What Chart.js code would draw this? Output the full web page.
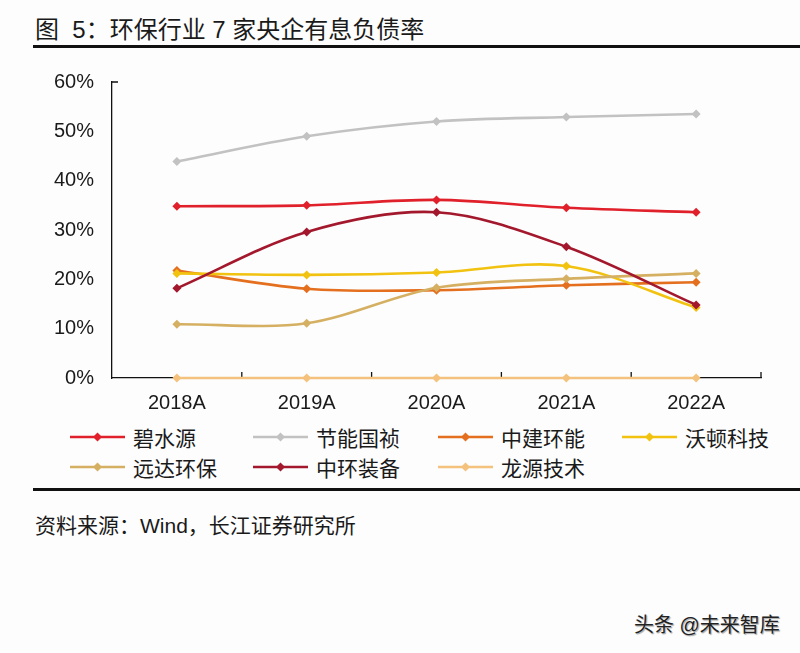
<!DOCTYPE html>
<html>
<head>
<meta charset="utf-8">
<script src="https://cdn.jsdelivr.net/npm/chart.js@4/dist/chart.umd.min.js"></script>
<style>
  body { margin: 0; background: #fdfdfd; }
  #page { position: relative; width: 800px; height: 653px; overflow: hidden; background: #fdfdfd;
          font-family: "Liberation Sans", "Noto Sans CJK SC", sans-serif; color: #1a1a1a; }
  #title { position: absolute; left: 35px; top: 10px; font-size: 24px; white-space: pre; }
  .rule { position: absolute; left: 33px; right: 0; height: 3px; background: #111; }
  #wrap { position: absolute; left: 0; top: 52px; width: 800px; height: 368px; }
  #legend { position: absolute; left: 0; top: 422px; width: 800px; height: 60px; }
  .item { position: absolute; height: 30px; display: flex; align-items: center; font-size: 21px; white-space: nowrap; }
  .item svg { margin-right: 8px; }
  #source { position: absolute; left: 35px; top: 509px; font-size: 21px; white-space: pre; }
  #mark { position: absolute; left: 634px; top: 609px; font-size: 20px; color: #222;
          text-shadow: 0 0 2px #fff, 1px 1px 1px #888; }
</style>
</head>
<body>
<div id="page">
  <div id="title">图  5：环保行业 7 家央企有息负债率</div>
  <div class="rule" style="top:45px"></div>
  <div id="wrap"><canvas id="c"></canvas></div>
  <div id="legend"></div>
  <div class="rule" style="top:488px"></div>
  <div id="source">资料来源：Wind，长江证券研究所</div>
  <div id="mark">头条 @未来智库</div>
</div>
<script>
// years on the x axis
var years = ['2018A', '2019A', '2020A', '2021A', '2022A'];

// company names, as in the legend
var names = ['碧水源', '节能国祯', '中建环能', '沃顿科技', '远达环保', '中环装备', '龙源技术'];

// interest-bearing debt ratio, %
var bishuiyuan = [34.8, 35.0, 36.1, 34.5, 33.6];
var jienengguozhen = [43.9, 49.0, 52.0, 52.9, 53.5];
var zhongjianhuanneng = [21.8, 18.1, 17.8, 18.8, 19.4];
var wodunkeji = [21.2, 20.9, 21.4, 22.7, 14.3];
var yuandahuanbao = [10.9, 11.1, 18.3, 20.1, 21.2];
var zhonghuanzhuangbei = [18.2, 29.6, 33.6, 26.6, 14.8];
var longyuanjishu = [0, 0, 0, 0, 0];

var yTicks = [0, 10, 20, 30, 40, 50, 60];

var colors = ['#e0202a', '#c2c2c2', '#e4701f', '#f1c20f', '#d5b062', '#a3182c', '#f4c27c'];
var series = [bishuiyuan, jienengguozhen, zhongjianhuanneng, wodunkeji, yuandahuanbao, zhonghuanzhuangbei, longyuanjishu];

var datasets = series.map(function (vals, i) {
  return {
    label: names[i],
    data: vals,
    borderColor: colors[i],
    backgroundColor: colors[i],
    borderWidth: 2.6,
    tension: 0.33,
    pointStyle: 'rectRot',
    pointRadius: 4.5,
    pointBorderWidth: 0,
    clip: false,
    order: series.length - i   // later series on top, like the original
  };
});

// axis tick marks pointing inward (between categories) and top cap on y axis
var axisTicks = {
  id: 'axisTicks',
  beforeDatasetsDraw: function (chart) {
    var ctx = chart.ctx, x = chart.scales.x, a = chart.chartArea;
    ctx.save();
    ctx.strokeStyle = '#111';
    ctx.lineWidth = 1.3;
    ctx.beginPath();
    for (var i = 0; i < years.length; i++) {
      var px = i < years.length - 1 ? (x.getPixelForValue(i) + x.getPixelForValue(i + 1)) / 2 : a.right;
      ctx.moveTo(px, a.bottom);
      ctx.lineTo(px, a.bottom - 6);
    }
    ctx.moveTo(a.left, a.top);
    ctx.lineTo(a.left + 6, a.top);
    ctx.stroke();
    ctx.restore();
  }
};

new Chart(document.getElementById('c'), {
  type: 'line',
  data: { labels: years, datasets: datasets },
  options: {
    responsive: true,
    maintainAspectRatio: false,
    animation: false,
    layout: { padding: { top: 14, right: 39, left: 0, bottom: 0 } },
    plugins: { legend: { display: false }, tooltip: { enabled: false } },
    scales: {
      x: {
        offset: true,
        grid: { display: false, drawTicks: false },
        border: { display: true, color: '#111', width: 1.3 },
        ticks: { padding: 13, color: '#1a1a1a', font: { family: 'Liberation Sans', size: 20 } },
        afterFit: function (s) { s.height = 42; }
      },
      y: {
        min: 0, max: 60,
        afterBuildTicks: function (s) { s.ticks = yTicks.map(function (v) { return { value: v }; }); },
        grid: { display: false, drawTicks: false },
        border: { display: true, color: '#111', width: 1.3 },
        ticks: {
          padding: 18, color: '#1a1a1a', font: { family: 'Liberation Sans', size: 20 },
          callback: function (v) { return v + '%'; }
        },
        afterFit: function (s) { s.width = 112; }
      }
    }
  },
  plugins: [axisTicks]
});

// legend built from the same names / colours
var legendCols = [70, 253, 438, 622];
var legendRows = [0, 30];
var legend = document.getElementById('legend');
names.forEach(function (n, i) {
  var d = document.createElement('div');
  d.className = 'item';
  d.style.left = legendCols[i % 4] + 'px';
  d.style.top = legendRows[Math.floor(i / 4)] + 'px';
  d.innerHTML = '<svg width="55" height="12"><line x1="0" y1="6" x2="55" y2="6" stroke="' + colors[i] +
    '" stroke-width="2.6"/><path d="M27.5 1.5 L32 6 L27.5 10.5 L23 6 Z" fill="' + colors[i] + '"/></svg>' + n;
  legend.appendChild(d);
});
</script>
</body>
</html>
